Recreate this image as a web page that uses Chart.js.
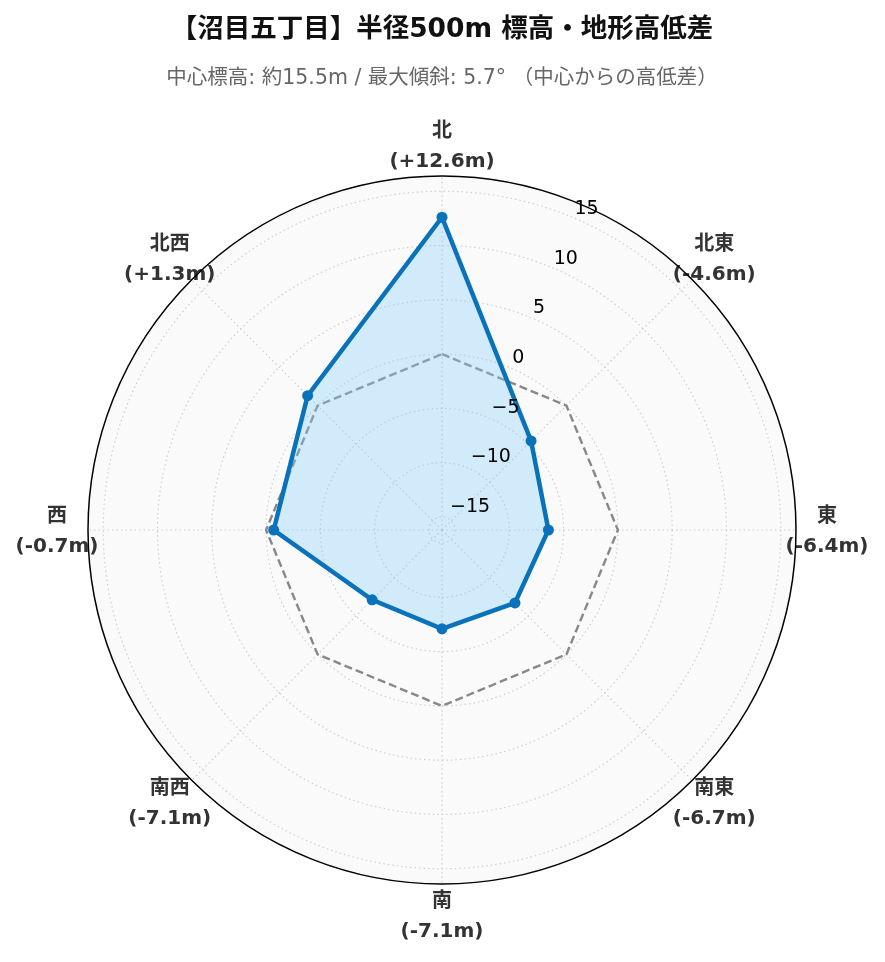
<!DOCTYPE html>
<html>
<head>
<meta charset="utf-8">
<script src="https://cdn.jsdelivr.net/npm/chart.js@4"></script>
<style>
  html, body { margin: 0; padding: 0; background: #fff; }
  canvas { display: block; }
</style>
</head>
<body>
<canvas id="myChart" width="885" height="962"></canvas>
<script>
// 方位と中心からの高低差(m)
const directions = ['北', '北東', '東', '南東', '南', '南西', '西', '北西'];
const diffs = [12.6, -4.6, -6.4, -6.7, -7.1, -7.1, -0.7, 1.3];
const zeroLine = [0, 0, 0, 0, 0, 0, 0, 0];
const tickValues = [-15, -10, -5, 0, 5, 10, 15];
const rMin = -16.2;
const rMax = 16.4;

const titleText = '【沼目五丁目】半径500m 標高・地形高低差';
const subtitleText = '中心標高: 約15.5m / 最大傾斜: 5.7° （中心からの高低差）';

const labelFont = '"DejaVu Sans", "Noto Sans CJK JP", sans-serif';

function fmtDiff(v) {
    return '(' + (v >= 0 ? '+' : '-') + Math.abs(v).toFixed(1) + 'm)';
}

// タイトル・方位ラベル・目盛ラベル・外周
const decoPlugin = {
    id: 'deco',
    afterDraw(chart) {
        const ctx = chart.ctx;
        const s = chart.scales.r;
        const cx = s.xCenter, cy = s.yCenter;
        ctx.save();

        // title
        ctx.textAlign = 'center';
        ctx.textBaseline = 'middle';
        ctx.fillStyle = '#111';
        ctx.font = 'bold 26.5px ' + labelFont;
        ctx.fillText(titleText, 442, 30);
        ctx.fillStyle = '#666';
        ctx.font = '20.5px ' + labelFont;
        ctx.fillText(subtitleText, 442, 79);

        // tick labels (22.5°方向)
        ctx.textAlign = 'left';
        ctx.fillStyle = '#000';
        ctx.font = '19px "DejaVu Sans", sans-serif';
        tickValues.forEach(v => {
            const r = s.getDistanceFromCenterForValue(v);
            const x = cx + r * 0.382 + 3;
            const y = cy - r * 0.912 - 11.5;
            ctx.fillText(String(v).replace('-', '\u2212'), x, y);
        });

        // direction labels
        ctx.textAlign = 'center';
        ctx.fillStyle = '#333';
        ctx.font = 'bold 20px ' + labelFont;
        directions.forEach((d, i) => {
            const p = s.getPointPosition(i, s.drawingArea + 31);
            ctx.fillText(d, p.x, p.y - 13);
            ctx.fillText(fmtDiff(diffs[i]), p.x, p.y + 17);
        });

        // outer circle
        ctx.beginPath();
        ctx.arc(cx, cy, s.drawingArea, 0, Math.PI * 2);
        ctx.strokeStyle = '#000';
        ctx.lineWidth = 1.5;
        ctx.stroke();
        ctx.restore();
    }
};

const data = {
    labels: directions,
    datasets: [{
        label: '高低差',
        data: diffs,
        borderColor: '#0a72ba',
        backgroundColor: 'rgba(135, 206, 250, 0.35)',
        borderWidth: 4.5,
        pointRadius: 5.5,
        pointBackgroundColor: '#0a72ba',
        pointBorderWidth: 0,
        fill: 'start',
        order: 1
    }, {
        label: '中心',
        data: zeroLine,
        borderColor: '#888',
        borderWidth: 2.4,
        borderDash: [8, 4],
        pointRadius: 0,
        fill: false,
        order: 2
    }]
};

const config = {
    type: 'radar',
    data: data,
    options: {
        responsive: false,
        animation: false,
        layout: {
            padding: { left: 88, right: 89, top: 176, bottom: 78 }
        },
        plugins: {
            legend: { display: false },
            tooltip: { enabled: false }
        },
        elements: { line: { tension: 0 } },
        scales: {
            r: {
                min: rMin,
                max: rMax,
                backgroundColor: '#fafafa',
                ticks: { display: false, stepSize: 5, includeBounds: false },
                pointLabels: { display: false },
                grid: { circular: true, color: '#d0d0d0', lineWidth: 1.2 },
                border: { dash: [1.5, 3] },
                angleLines: { color: '#d0d0d0', lineWidth: 1.2, borderDash: [1.5, 3] }
            }
        }
    },
    plugins: [decoPlugin]
};

const myChart = new Chart(document.getElementById('myChart'), config);
</script>
</body>
</html>
